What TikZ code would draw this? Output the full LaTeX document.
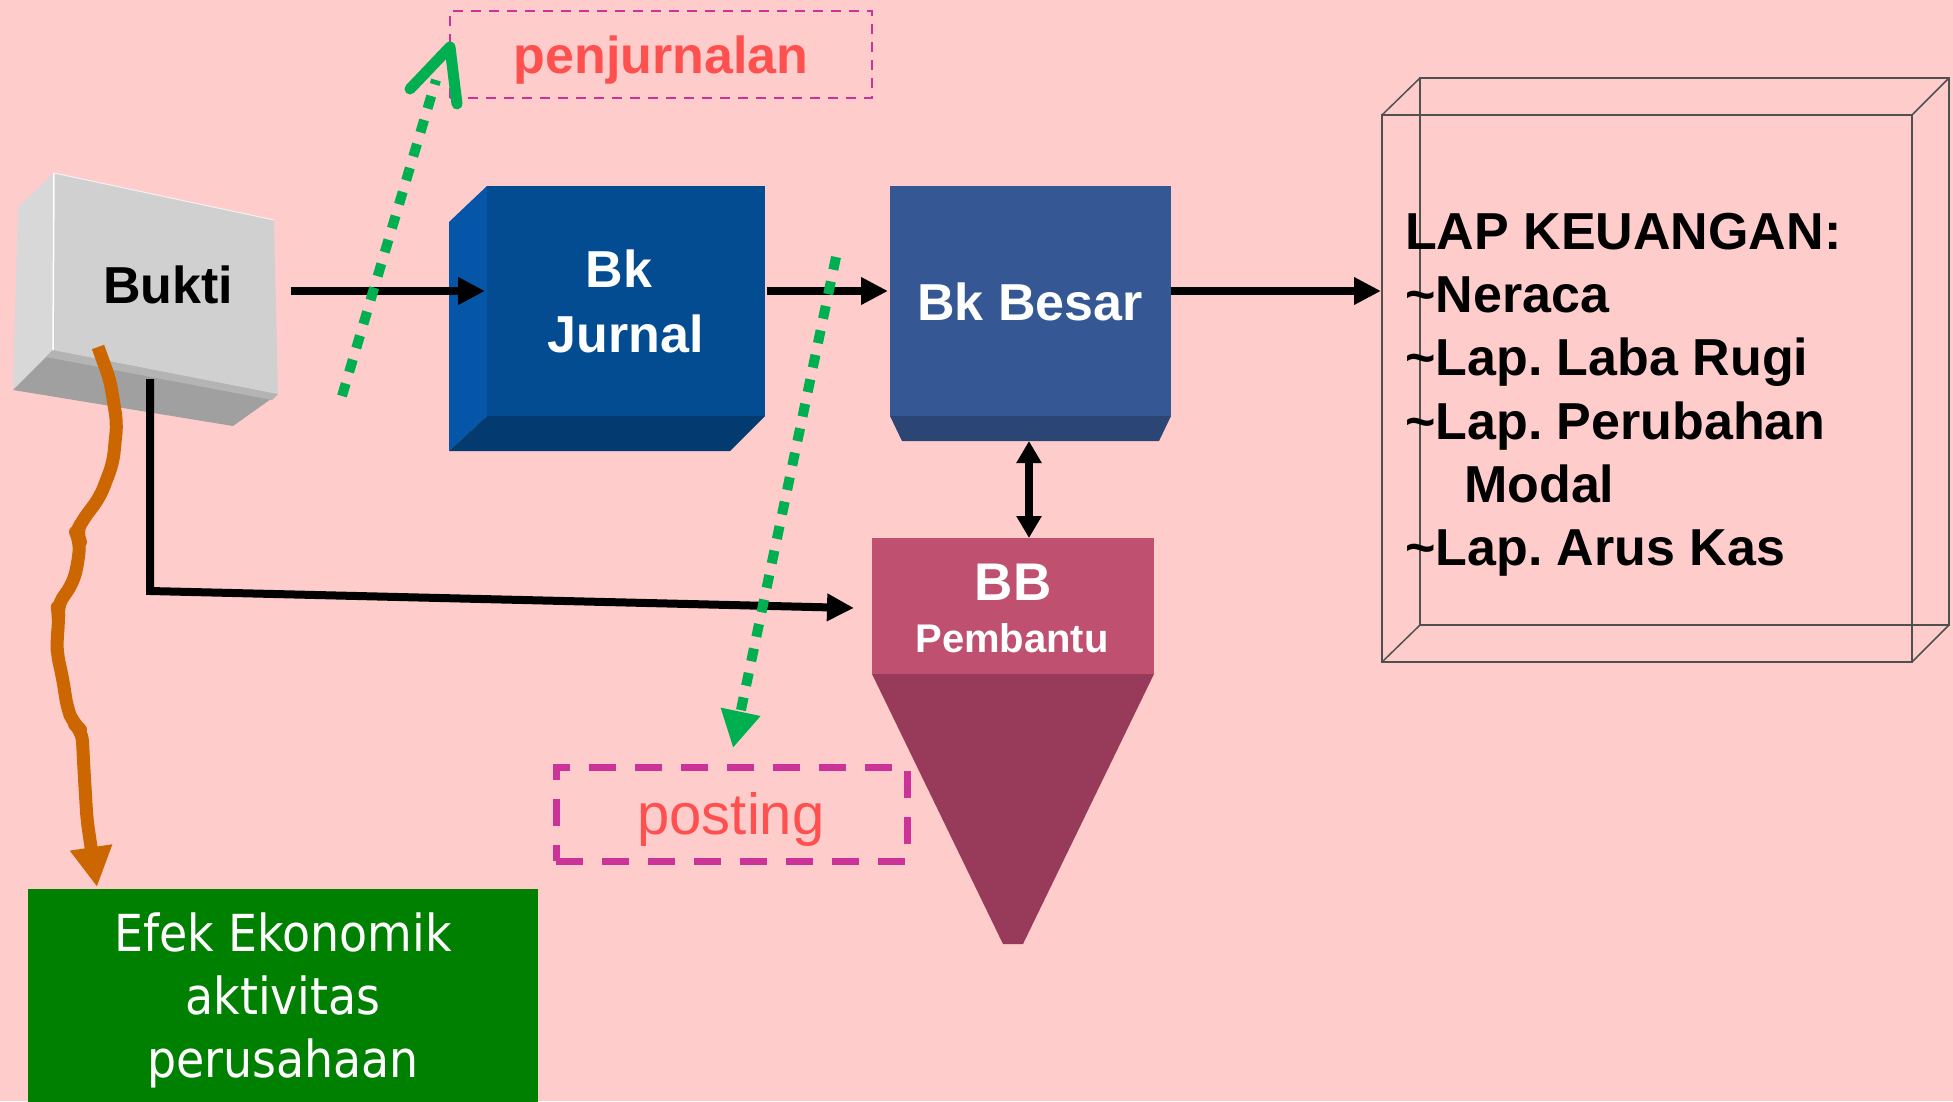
\documentclass[tikz,border=0pt]{standalone}
\usepackage{fontspec}
\setmainfont{Liberation Sans}
\newfontfamily\efekfont[FakeStretch=0.9]{DejaVu Sans}
\usetikzlibrary{arrows.meta}
\definecolor{bgpink}{HTML}{FFCCCC}
\definecolor{buktiFront}{HTML}{D0D0D0}
\definecolor{buktiLeft}{HTML}{D8D8D8}
\definecolor{buktiBottom}{HTML}{A0A0A0}
\definecolor{buktiBand}{HTML}{B4B4B4}
\definecolor{jurnalFront}{HTML}{034C91}
\definecolor{jurnalLeft}{HTML}{0556A8}
\definecolor{jurnalBottom}{HTML}{033A70}
\definecolor{besarFront}{HTML}{355894}
\definecolor{besarBottom}{HTML}{2B4675}
\definecolor{bbTop}{HTML}{C05070}
\definecolor{bbTri}{HTML}{983A5A}
\definecolor{dotgreen}{HTML}{00B050}
\definecolor{orangeline}{HTML}{CC6600}
\definecolor{dashmag}{HTML}{CC3399}
\definecolor{redtext}{HTML}{FF5050}
\definecolor{efekgreen}{HTML}{008000}
\definecolor{boxline}{HTML}{505050}
\frenchspacing
\begin{document}
\begin{tikzpicture}[x=1pt,y=-1pt,
  blk/.style={line width=8pt, draw=black},
  arr/.style={blk, -{Triangle[length=27pt,width=26pt]}},
  dblarr/.style={blk, {Triangle[length=22pt,width=24pt]}-{Triangle[length=22pt,width=24pt]}},
  greendots/.style={draw=dotgreen, line width=10pt, dash pattern=on 13pt off 12pt},
  orangearr/.style={draw=orangeline, line width=13pt, line join=round, rounded corners=10pt, -{Triangle[length=40pt,width=40pt]}},
  bigbold/.style={font=\fontsize{52}{65}\selectfont\bfseries, inner sep=0pt},
  whitebold/.style={bigbold, text=white},
  lapbox/.style={draw=boxline, line width=1.5pt}
]
\fill[bgpink] (0,0) rectangle (1953,1101);
\useasboundingbox (0,0) rectangle (1953,1101);

% ---------- Bukti block ----------
\fill[buktiLeft] (18,207) -- (54,173) -- (53,350) -- (13,390) -- cycle;
\fill[buktiBottom] (13,390) -- (53,350) -- (278,394) -- (233,426) -- cycle;
\fill[buktiBand] (53,350) -- (278,394) -- (272,400) -- (46,357) -- cycle;
\fill[buktiFront] (54,173) -- (274,220) -- (278,394) -- (53,350) -- cycle;
\draw[white, line width=1.5pt] (54,173) -- (53,350);
\draw[white!90!gray, line width=1pt] (54,173) -- (274,220);
\node[bigbold, anchor=base] (bukti) at (168,303) {Bukti};

% ---------- Bk Jurnal block ----------
\fill[jurnalLeft] (449,222) -- (487,186) -- (487,416) -- (449,451) -- cycle;
\fill[jurnalBottom] (449,451) -- (487,416) -- (765,416) -- (730,451) -- cycle;
\fill[jurnalFront] (487,186) rectangle (765,416);
\node[whitebold, align=center, anchor=north] (jurnal) at (626,250) {Bk\hspace*{14pt}\\Jurnal};

% ---------- Bk Besar block ----------
\fill[besarBottom] (890,416) -- (1171,416) -- (1159,441) -- (902,441) -- cycle;
\fill[besarFront] (890,186) rectangle (1171,416);
\node[whitebold, anchor=base] (besar) at (1030,320) {Bk Besar};

% ---------- BB Pembantu ----------
\fill[bbTri] (872,674) -- (1154,674) -- (1023,944) -- (1003,944) -- cycle;
\fill[bbTop] (872,538) rectangle (1154,674);
\node[whitebold, font=\fontsize{53}{60}\selectfont\bfseries, anchor=base] (bbtitle) at (1013,600) {BB};
\node[whitebold, font=\fontsize{40}{48}\selectfont\bfseries, anchor=base] (bbsub) at (1012,652) {Pembantu};

% ---------- LAP KEUANGAN box ----------
\draw[lapbox] (1420,78) rectangle (1949,625);
\draw[lapbox] (1382,115) rectangle (1912,662);
\draw[lapbox] (1382,115) -- (1420,78) (1912,115) -- (1949,78)
                (1912,662) -- (1949,625) (1382,662) -- (1420,625);
\node[bigbold, font=\fontsize{52}{63.2}\selectfont\bfseries, align=left, anchor=north west] (lap) at (1405,213)
  {LAP KEUANGAN:\\
   \textasciitilde Neraca\\
   \textasciitilde Lap. Laba Rugi\\
   \textasciitilde Lap. Perubahan\\
   \hspace*{59pt}Modal\\
   \textasciitilde Lap. Arus Kas};

% ---------- label boxes ----------
\node[draw=dashmag, line width=2.5pt, dash pattern=on 10pt off 8pt,
      minimum width=422pt, minimum height=87pt, inner sep=0pt] (penjbox) at (661,54.5) {};
\node[bigbold, text=redtext, anchor=base] (penj) at (661,73) {penjurnalan};
\node[draw=dashmag, line width=7pt, dash pattern=on 27pt off 19pt,
      minimum width=351pt, minimum height=94pt, inner sep=0pt] (postbox) at (731.5,814) {};
\node[font=\fontsize{58}{66}\selectfont, inner sep=0pt, text=redtext, anchor=base] (posting) at (731,834) {posting};

% ---------- Efek Ekonomik ----------
\node[fill=efekgreen, minimum width=510pt, minimum height=240pt, inner sep=0pt, anchor=north west] (efek) at (28,889) {};
\node[font=\efekfont\fontsize{51}{63}\selectfont, text=white, align=center, inner sep=0pt, anchor=north] (efektext) at (283,913)
  {Efek Ekonomik\\aktivitas\\perusahaan};

% ---------- connectors ----------
\coordinate (buktiOut) at (291,291);
\coordinate (jurnalIn) at (485,291);
\coordinate (jurnalOut) at (767,291);
\coordinate (besarIn) at (888,291);
\coordinate (besarOut) at (1171,291);
\coordinate (lapIn) at (1381,291);
\draw[arr] (buktiOut) -- (jurnalIn);
\draw[arr] (jurnalOut) -- (besarIn);
\draw[arr] (besarOut) -- (lapIn);

\coordinate (besarBot) at (1029,441);
\coordinate (bbTopC) at (1029,538);
\draw[dblarr] (besarBot) -- (bbTopC);

\coordinate (buktiDown) at (150,379);
\coordinate (corner) at (150,591);
\coordinate (bbIn) at (854,608);
\draw[arr, line join=miter] (buktiDown) -- (corner) -- (bbIn);

% orange wavy arrow
\coordinate (orangeStart) at (98,347);
\coordinate (orangeTip) at (97,887);
\draw[orangearr] (orangeStart) -- (110,380) -- (117,423) -- (113,463) -- (100,497) -- (82,521)
  -- (76,533) -- (80,541) -- (78,563) -- (73,583) -- (57,606) -- (59,617) -- (57,640)
  -- (57,653) -- (63,680) -- (67,707) -- (73,723) -- (82,731) -- (84,770) -- (87,820) -- (orangeTip);

% green dotted arrow up (penjurnalan)
\coordinate (penjTail) at (342,396);
\coordinate (penjTip) at (450,47);
\coordinate (penjShaftEnd) at (436,80);
\draw[greendots] (penjTail) -- (penjShaftEnd);
\draw[dotgreen, line width=11pt, line cap=round, line join=round] (410,89) -- (penjTip) -- (457,104);

% green dotted arrow down (posting)
\coordinate (postTail) at (836,257);
\coordinate (postTip) at (733,748);
\draw[greendots, -{Triangle[length=37pt,width=38pt]}] (postTail) -- (postTip);
\end{tikzpicture}
\end{document}
